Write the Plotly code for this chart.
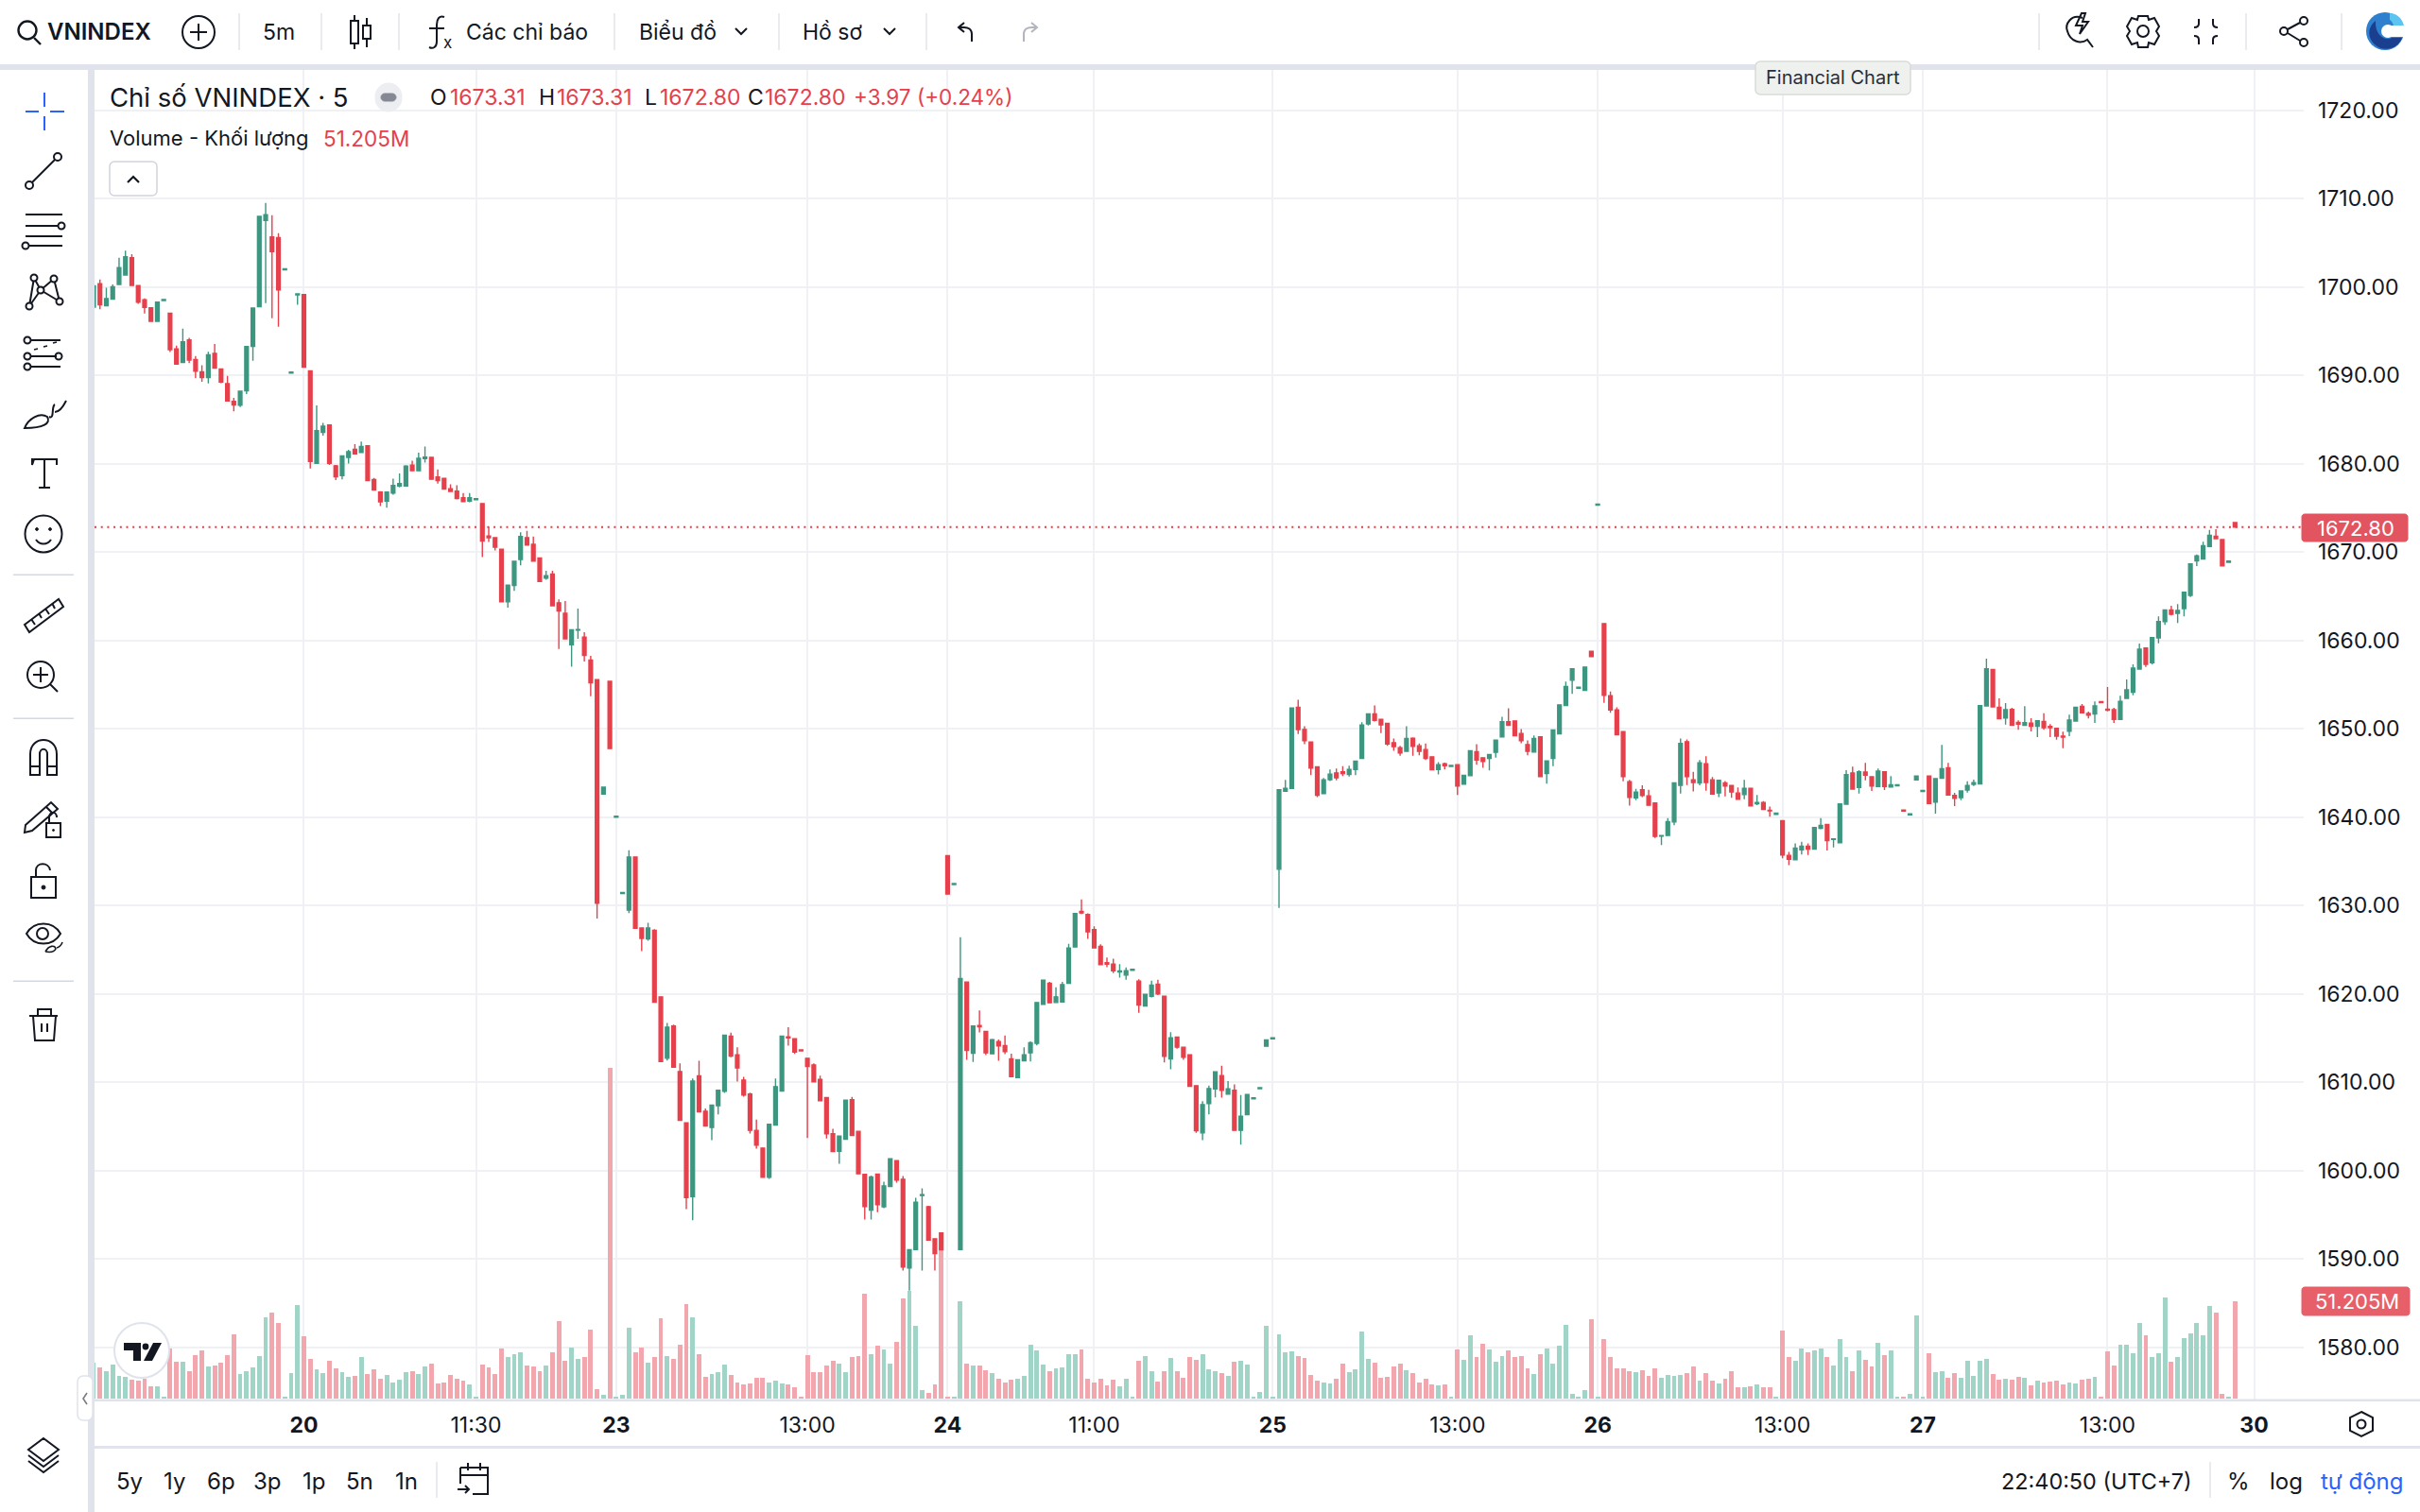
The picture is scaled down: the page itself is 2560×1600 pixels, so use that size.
import re
import plotly.graph_objects as go

opens = [1697.7,1700.34,1697.85,1698.6,1700.26,1701.33,1703.3,1700.15,1698.54,1697.62,1696.1,1698.44,1697.01,1692.96,1691.44,1694,1691.78,1690.37,1689.72,1692.47,1690.7,1689.03,1687.04,1686.59,1688.23,1693.27,1697.74,1707.52,1705.65,1705.57,1701.92,1690.23,1699.09,1699.11,1690.48,1680.02,1683.53,1684.37,1679.75,1678.64,1680.7,1681.62,1681.24,1682,1678.18,1676.77,1675.74,1676.65,1677.46,1677.46,1679.82,1679.18,1680.55,1680.7,1678.49,1678.33,1677.15,1676.88,1676.12,1675.74,1675.91,1675.47,1671.8,1671.61,1670.31,1664.35,1666.19,1669.13,1671.61,1670.85,1669.32,1667.03,1667.49,1664.24,1663.06,1659.5,1661.15,1660.34,1657.75,1655.54,1642.58,1655.35,1639.96,1631.32,1629.46,1635.47,1627.44,1626.2,1627.17,1619.64,1612.69,1616.33,1611.19,1605.38,1597.04,1610.7,1606.7,1604.85,1607.31,1608.95,1615.19,1613.08,1610.23,1608.63,1604.53,1602.53,1599.22,1605.13,1608.98,1615.12,1614.9,1613.64,1612.69,1611.94,1610.3,1608.24,1604.14,1602.17,1603.53,1607.99,1604.42,1599.54,1595.51,1599.57,1595.87,1598.18,1601.11,1599,1588.95,1591.05,1597.15,1595.9,1592.26,1592.91,1635.61,1632.35,1591.05,1621.32,1613.26,1616.4,1615.72,1613.19,1614.58,1614.12,1612.62,1610.51,1612.41,1613.3,1614.37,1618.79,1621.18,1619,1619.07,1621.18,1625.28,1629.3,1628.95,1627.24,1625.35,1623.5,1623.35,1622.46,1622.1,1622.65,1621.43,1618.61,1619.71,1621.07,1619.71,1612.62,1615.08,1613.94,1613.08,1609.59,1604.24,1607.56,1609.23,1610.73,1608.63,1609.06,1604.53,1606.31,1608.1,1609.24,1614.05,1614.88,1634.08,1642.92,1643.24,1652.41,1649.91,1648.48,1645.67,1642.64,1644.21,1644.99,1645.1,1644.81,1645.38,1646.63,1650.52,1651.66,1651.05,1650.59,1648.41,1647.84,1647.42,1648.91,1648.06,1647.63,1646.81,1645.38,1646.03,1645.72,1645.92,1643.71,1644.67,1647.38,1646.7,1646.63,1647.31,1649.06,1650.77,1650.87,1649.45,1648.2,1647.34,1649.06,1644.92,1646.63,1649.41,1652.62,1655.47,1654.56,1654.33,1658.75,1675.29,1661.89,1653.73,1652.12,1649.66,1643.99,1642.17,1643.07,1642.39,1641.57,1637.83,1637.9,1639.43,1643.57,1648.52,1644.21,1643.85,1646.03,1644.21,1642.71,1643.85,1643.57,1642.71,1642.53,1643.24,1641.5,1641.64,1640.75,1640.3,1639.57,1635.65,1635.15,1636.29,1636.68,1636.36,1638.72,1639.14,1637.45,1637.09,1641.44,1644.97,1643.33,1645.08,1644.55,1643.44,1645.12,1643.4,1643.52,1640.79,1640.24,1644.19,1642.88,1644.62,1641.69,1644.37,1645.58,1642.44,1642.19,1643.05,1643.69,1643.73,1652.57,1656.7,1652.42,1651.21,1652.17,1650.71,1650.36,1650.61,1650.25,1650.82,1650.25,1650.04,1649.14,1649.71,1650.86,1652.53,1651.71,1651.64,1653.06,1652.21,1652.14,1651.03,1653.42,1654.1,1656.74,1659.13,1657.45,1660.27,1662.12,1663.44,1663.05,1663.58,1665.08,1668.97,1669.18,1670.61,1671.78,1671.39,1668.83,1673.31]
closes = [1700.1,1697.97,1698.66,1700,1702.17,1703.4,1700.15,1698.27,1697.66,1696.1,1698.27,1698.56,1692.89,1691.24,1693.77,1691.7,1690.44,1689.72,1692.31,1690.8,1689.22,1687.08,1686.62,1688.19,1693.23,1697.59,1707.98,1708.17,1703.97,1699.65,1702.04,1690.35,1699.21,1690.9,1680.24,1683.72,1684.22,1680.02,1678.49,1680.86,1681.35,1681.08,1681.93,1678.07,1677,1675.66,1676.77,1677.53,1677.72,1679.7,1679.18,1680.59,1680.74,1678.22,1678.07,1677.11,1676.85,1676.04,1675.7,1676.12,1676.03,1671.23,1671.61,1670.54,1664.35,1666.23,1668.94,1671.73,1670.77,1668.94,1666.65,1667.3,1663.9,1663.32,1660.15,1661.18,1661.22,1658.28,1655.19,1630.23,1643.38,1647.74,1640.08,1631.44,1635.47,1627.4,1626.25,1627.44,1619.02,1612.33,1616.22,1611.69,1605.67,1596.93,1610.12,1606.63,1605.03,1607.38,1609.06,1615.29,1612.94,1611.59,1608.52,1604.53,1602.85,1599.22,1605.21,1609.48,1615.19,1615,1613.4,1613.52,1611.76,1610.02,1607.88,1604.14,1602.14,1603.89,1607.95,1603.96,1599.61,1595.9,1599.25,1596.11,1598.25,1601.32,1598.89,1589.06,1591.02,1596.4,1597.26,1592.12,1590.59,1591.02,1631.27,1632.47,1621.71,1613.58,1616.33,1616.26,1613.3,1614.8,1614.08,1613.44,1610.62,1612.51,1613.08,1614.44,1619,1621.53,1618.97,1619.64,1621.03,1625.17,1629.06,1629.13,1626.99,1625.17,1623.28,1623.35,1622.6,1622.57,1622.6,1622.77,1618.72,1619.93,1620.96,1619.96,1612.91,1615.01,1613.94,1612.8,1609.52,1604.49,1607.45,1609.27,1611.16,1609.06,1609.23,1604.53,1606.13,1608.59,1608.22,1609.36,1614.76,1615,1643.07,1643.24,1652.34,1649.88,1648.63,1645.53,1642.46,1644.21,1644.85,1644.42,1644.92,1645.38,1646.31,1650.41,1651.66,1650.94,1650.41,1648.27,1647.95,1647.24,1648.88,1647.99,1647.42,1646.63,1645.35,1645.92,1645.81,1645.84,1643.49,1644.71,1647.49,1646.45,1646.27,1647.06,1648.7,1650.77,1650.37,1649.2,1648.63,1647.42,1648.88,1644.56,1646.35,1649.84,1652.69,1654.76,1656.76,1654.68,1656.97,1658.15,1675.41,1653.76,1652.12,1649.3,1644.56,1642.21,1642.82,1642.42,1641.32,1637.79,1637.9,1639.47,1643.85,1648.31,1644.56,1643.89,1646.13,1643.89,1642.6,1644.14,1643.49,1642.82,1642,1643.24,1641.25,1641.64,1640.86,1640.68,1640.42,1635.69,1635.22,1636.47,1636.68,1636.36,1638.79,1639.04,1637.33,1637.52,1641.48,1644.8,1643.16,1645.12,1644.72,1643.51,1645.19,1643.44,1643.65,1643.64,1640.67,1640.36,1644.62,1643,1641.52,1644.33,1645.47,1642.48,1642.12,1642.94,1643.55,1643.87,1652.6,1656.77,1652.46,1651.11,1652.14,1650.36,1650.5,1650.68,1650.25,1650.89,1650.11,1650.11,1649.14,1649.04,1650.96,1652.42,1651.78,1651.53,1652.57,1652.94,1652.07,1651.03,1653.07,1654.39,1656.84,1658.98,1657.27,1660.3,1662.12,1663.44,1662.94,1663.37,1665.44,1668.65,1669.54,1670.71,1671.89,1671.5,1668.43,1668.95,1672.8]
highs = [1700.1,1700.83,1699.88,1700.26,1703.3,1704.08,1703.7,1700.15,1698.7,1697.62,1698.27,1698.56,1697.01,1693.35,1695.26,1694.22,1692.16,1691.13,1692.66,1693.54,1690.7,1689.91,1687.43,1688.19,1693.23,1697.59,1707.98,1709.5,1708.09,1706.07,1702.04,1690.35,1699.21,1699.11,1690.48,1686.59,1684.6,1684.37,1679.83,1680.86,1681.55,1682.2,1682.5,1682,1678.37,1676.88,1676.77,1678.3,1678.87,1679.8,1680.32,1681.24,1681.93,1680.7,1679.33,1678.33,1677.65,1677.53,1676.65,1676.65,1676.03,1675.47,1672.83,1671.61,1670.31,1666.3,1668.94,1672.22,1672.38,1671.73,1669.32,1667.87,1667.87,1664.62,1664.43,1661.18,1663.59,1660.92,1658.24,1655.54,1643.38,1655.35,1640.08,1631.44,1636.23,1635.47,1627.44,1628.01,1627.3,1619.64,1616.68,1616.5,1612.12,1605.38,1610.41,1612.41,1607,1607.38,1609.06,1615.29,1615.58,1613.94,1610.59,1608.8,1605.74,1602.53,1605.21,1610.41,1615.19,1616.19,1614.9,1613.64,1612.69,1612.12,1610.73,1608.24,1604.71,1603.89,1607.95,1608.31,1604.42,1599.54,1599.4,1599.57,1598.72,1601.32,1601.11,1599.36,1591.02,1596.9,1597.97,1596,1592.26,1592.91,1635.61,1632.47,1626.38,1621.32,1616.33,1618.11,1615.72,1614.9,1614.8,1615.26,1613.2,1612.51,1613.94,1614.6,1619,1621.53,1621.35,1620.71,1621.35,1625.63,1629.06,1630.66,1629.1,1627.63,1625.6,1624.1,1623.96,1623.35,1622.96,1622.77,1621.64,1619.93,1621.46,1621.57,1619.71,1615.65,1615.08,1614,1613.08,1609.59,1607.84,1609.59,1611.16,1611.84,1610.12,1609.73,1608.52,1608.59,1608.22,1609.36,1614.76,1615,1643.07,1644.21,1652.34,1653.26,1650.27,1648.48,1645.67,1644.42,1645.38,1645.49,1645.74,1645.81,1646.31,1650.73,1651.66,1652.62,1651.05,1650.59,1648.88,1648.06,1650.27,1649,1648.31,1648.31,1646.81,1646.2,1646.15,1645.84,1645.92,1644.71,1647.49,1648.24,1646.7,1647.06,1648.7,1651.34,1652.3,1650.87,1649.95,1648.66,1649.23,1649.06,1646.35,1649.84,1652.69,1655.33,1656.76,1654.68,1656.97,1658.75,1675.41,1661.89,1654.19,1652.41,1649.66,1644.21,1643.17,1643.57,1643.07,1641.57,1637.9,1639.86,1643.85,1648.88,1648.77,1645.1,1646.45,1646.88,1644.53,1644.14,1644.06,1643.57,1643.35,1644.21,1643.24,1642.5,1641.8,1641.18,1640.42,1639.57,1636.04,1637,1637.18,1637,1638.79,1639.86,1639.14,1637.6,1641.48,1645.29,1645.69,1645.29,1646.11,1644.55,1645.47,1645.12,1644.62,1643.64,1640.79,1640.36,1644.62,1643,1644.62,1644.33,1648.15,1646.11,1642.73,1642.94,1644.05,1644.22,1652.6,1657.91,1656.7,1653.42,1652.89,1652.35,1650.93,1652.53,1651.18,1650.89,1651.75,1650.5,1650.04,1649.64,1651.57,1652.42,1652.78,1651.92,1653.07,1653.06,1654.71,1652.35,1653.71,1655.56,1657.27,1659.63,1659.13,1660.3,1662.69,1663.44,1663.9,1664.08,1665.44,1668.65,1669.71,1671.14,1672.5,1672.57,1671.39,1668.95,1673.31]
lows = [1697.7,1697.47,1697.85,1698.6,1700.26,1701.33,1700.15,1698.08,1696.97,1696.1,1696.1,1698.44,1692.62,1691.24,1691.44,1691.36,1689.64,1689.26,1689.07,1690.8,1689.1,1687.08,1685.9,1686.4,1687.85,1691.63,1697.74,1698.16,1696.44,1695.49,1701.92,1690.23,1697.97,1690.9,1679.44,1680.02,1683.15,1679.83,1678.14,1678.22,1680,1681.08,1681.24,1678.07,1677,1675.2,1675.01,1676.46,1677.3,1677.46,1679.18,1679.18,1680.1,1678.22,1677.72,1677.11,1676.78,1675.93,1675.7,1675.62,1675.91,1669.4,1671.12,1670.16,1664.35,1663.7,1665.58,1668.48,1670.77,1668.94,1666.65,1666.84,1663.9,1659,1660.15,1657,1660.15,1657.6,1653.66,1628.51,1642.58,1647.74,1639.96,1631.32,1629.12,1627.4,1624.8,1626,1619.02,1612.33,1612.44,1611.69,1605.67,1595.61,1594.37,1606.63,1605.03,1603.42,1606.35,1608.77,1612.8,1610.05,1608.34,1604.17,1602.46,1599.22,1599.04,1605.13,1608.98,1614.12,1613.19,1613.52,1603.67,1610.02,1607.88,1603.6,1602.14,1600.75,1603.53,1603.96,1599.61,1594.44,1594.44,1595.26,1595.72,1598.18,1598.6,1588.66,1586.4,1591.05,1588.66,1592.12,1588.66,1591.02,1631.27,1632.35,1591.05,1612.51,1612.26,1615.61,1613.05,1613.19,1612.41,1613.15,1610.62,1610.51,1612.41,1612.33,1614.15,1618.79,1618.97,1619,1619.07,1621.18,1625.28,1629,1626.2,1625.17,1623.28,1623,1622.32,1621.82,1621.57,1622.65,1617.83,1618.61,1619.57,1619.85,1612.23,1611.44,1613.76,1612.51,1609.52,1604.24,1603.42,1606.35,1608.27,1608.24,1608.63,1604.53,1602.92,1606.31,1608.1,1609.24,1614.05,1614.88,1629.7,1642.92,1643.24,1649.38,1648.24,1644.74,1642.25,1642.64,1644.06,1644.14,1644.63,1644.56,1644.74,1646.63,1650.34,1650.8,1649.48,1648.06,1647.49,1646.92,1647.42,1646.92,1646.99,1646.45,1645.28,1644.81,1645.38,1645.72,1642.5,1643.71,1644.67,1645.92,1645.56,1645.28,1646.7,1649.06,1650.37,1649.2,1648.34,1646.99,1647.34,1644.56,1643.78,1645.74,1649.41,1652.62,1653.94,1654.56,1654.33,1658.15,1675.29,1652.91,1651.8,1649.3,1644.03,1641.28,1641.89,1642.25,1641.32,1637.61,1636.83,1637.9,1639.07,1642.64,1643.6,1642.89,1643.57,1642.96,1642.6,1642.25,1642.32,1642.17,1642,1642,1641.25,1641.35,1640.86,1640.04,1640.3,1635.33,1634.55,1635.15,1635.76,1635.69,1636.3,1638.6,1636.19,1636.56,1637.09,1641.44,1643.16,1642.66,1644.15,1642.94,1643.44,1643.05,1643.4,1643.52,1640.67,1640.24,1644.19,1642.88,1641.52,1640.37,1644.37,1642.48,1641.23,1641.91,1642.76,1643.5,1643.73,1652.57,1652.46,1651.11,1650.46,1650.36,1649.86,1650.36,1649.68,1649.04,1649.86,1649.04,1648.75,1647.79,1649.14,1650.86,1651.78,1651.14,1650.64,1652.94,1651.95,1650.64,1651.03,1653.42,1653.78,1656.74,1656.99,1657.27,1659.66,1661.73,1662.8,1661.94,1662.69,1664.9,1668.4,1669.18,1670.61,1671.5,1668.43,1668.83,1672.8]
volumes = [18.9,16.4,14.6,18.1,11.8,11.4,9.9,9.3,10.3,6.6,6.3,1.0,26.5,19.6,19.4,14.6,22.9,25.2,16.9,17.2,18.9,22.9,33.6,12.8,14.6,16.4,22.5,42.8,45.1,39.8,1.0,13.3,49.0,32.8,20.7,15.4,13.3,19.9,15.9,13.8,11.4,11.9,22.0,12.9,15.4,10.6,12.4,8.5,9.8,13.8,14.6,12.9,16.9,18.6,8.0,8.5,12.4,10.3,9.3,7.5,1.0,18.1,16.4,12.9,26.2,22.0,23.4,24.4,17.2,16.9,14.3,17.2,24.4,40.6,19.9,26.8,20.9,21.7,36.3,4.8,1.8,174,1.0,2.2,37.1,24.4,26.8,19.1,21.7,42.4,22.5,20.7,28.3,49.5,42.8,23.4,11.4,12.8,13.8,17.7,12.4,8.5,7.5,8.0,11.1,11.1,8.5,9.3,8.0,7.5,5.8,1.0,23.0,13.8,13.8,17.2,19.9,18.6,13.8,21.7,22.5,55.2,23.4,27.8,25.7,18.6,29.7,52.7,56.8,38.1,4.5,3.1,7.5,80,1.0,1.0,51.2,18.6,17.2,17.2,15.1,13.3,10.6,8.5,9.8,10.3,11.9,28.3,25.2,18.1,14.6,15.9,16.4,23.4,23.4,25.7,10.3,8.5,10.6,7.1,9.8,6.6,10.3,1.0,19.9,22.5,14.3,8.9,14.6,21.2,14.3,11.1,21.7,20.4,23.4,15.4,14.6,13.3,11.9,19.4,19.9,17.7,1.0,3.5,38.1,1.0,33.6,24.4,24.9,22.5,21.2,12.4,9.3,8.5,8.0,10.3,18.6,13.8,15.4,35.3,20.7,19.1,11.1,11.4,16.7,18.6,15.1,13.3,8.5,10.6,7.5,7.1,7.5,1.0,25.7,20.4,33.1,22.0,28.7,25.7,19.4,22.5,25.2,22.0,22.5,15.9,12.8,23.4,26.5,18.6,27.8,38.9,2.7,1.0,4.5,41.6,1.0,31.3,21.7,15.9,15.9,14.6,14.1,15.1,11.9,15.9,11.1,12.4,11.9,12.4,13.3,16.9,9.3,13.3,9.3,8.0,10.3,14.6,6.1,6.1,6.6,7.5,5.8,5.8,1.0,35.8,22.0,19.9,26.5,24.4,25.2,26.5,21.7,17.2,31.3,22.0,14.6,25.2,20.4,16.9,29.2,23.0,25.2,1.0,1.0,2.7,43.7,1.0,23.9,14.1,14.6,11.1,13.3,11.1,19.9,11.9,19.9,20.9,12.8,9.8,10.3,9.8,11.4,11.1,7.1,9.3,8.5,8.9,9.3,7.5,8.5,8.0,9.8,10.6,11.4,1.0,24.9,17.2,28.3,28.3,23.9,39.8,33.1,21.7,23.9,53.0,19.4,21.7,31.8,34.5,39.8,33.1,48.7,45.1,2.7,1.0,51.205]
tick_positions = [33,60,82,112,134,157,185,214,236,265,287,316,339]
tick_labels = ["<b>20</b>","11:30","<b>23</b>","13:00","<b>24</b>","11:00","<b>25</b>","13:00","<b>26</b>","13:00","<b>27</b>","13:00","<b>30</b>"]
price_ticks = [1720,1710,1700,1690,1680,1670,1660,1650,1640,1630,1620,1610,1600,1590,1580]
last_price = 1672.80
range_labels = ["5y","1y","6p","3p","1p","5n","1n"]

W, H = 2560, 1600
INK = "#131722"
RED = "#e5404b"
GREEN = "#3c9680"
RED_V = "#f2a6ad"
GREEN_V = "#9fd4c7"
GRID = "#f0f1f4"
BAND = "#e0e3eb"
FONT = "Inter"

idx = list(range(len(opens)))
fig = go.Figure()
fig.add_trace(go.Bar(x=idx, y=volumes, width=0.72, yaxis="y",
                     marker=dict(color=[GREEN_V if c >= o else RED_V for o, c in zip(opens, closes)], line_width=0),
                     hoverinfo="skip", showlegend=False))
fig.add_trace(go.Candlestick(x=idx, open=opens, high=highs, low=lows, close=closes, yaxis="y2",
                             increasing=dict(line=dict(color=GREEN, width=1.4), fillcolor=GREEN),
                             decreasing=dict(line=dict(color=RED, width=1.4), fillcolor=RED),
                             whiskerwidth=0, showlegend=False, hoverinfo="skip"))

shapes, notes = [], []

def xp(px): return px / W
def yp(py): return 1 - py / H

def text(x, y, s, size=24, color=INK, anchor="left", weight=None):
    if anchor == "left":
        x -= 2
    notes.append(dict(xref="paper", yref="paper", x=xp(x), y=yp(y), text=s, showarrow=False,
                      xanchor=anchor, yanchor="middle", xshift=0,
                      font=dict(family=FONT, size=size, color=color, weight=weight) if weight else dict(family=FONT, size=size, color=color)))

def path(d, cx=0, cy=0, color=INK, w=2, fill=None, layer="above"):
    out, k = [], 0
    for tok in re.findall(r"[MLCQZ]|-?\d+\.?\d*", d):
        if tok.isalpha():
            out.append(tok); k = 0
        else:
            v = float(tok)
            out.append(f"{xp(v + cx):.6f}" if k % 2 == 0 else f"{yp(v + cy):.6f}")
            k += 1
    s, i = "", 0
    while i < len(out):
        if out[i].isalpha():
            s += out[i]; i += 1
        else:
            s += out[i] + "," + out[i + 1] + " "; i += 2
    shapes.append(dict(type="path", xref="paper", yref="paper", path=s.strip(), layer=layer,
                       line=dict(color=color, width=w), fillcolor=fill or "rgba(0,0,0,0)"))

def rect(x0, y0, x1, y1, fill, line=None, w=0, layer="above"):
    shapes.append(dict(type="rect", xref="paper", yref="paper", x0=xp(x0), x1=xp(x1), y0=yp(y0), y1=yp(y1),
                       fillcolor=fill, layer=layer, line=dict(color=line or fill, width=w)))

def circ(cx, cy, r, color=INK, w=2, fill=None, ry=None):
    ry = ry or r
    shapes.append(dict(type="circle", xref="paper", yref="paper", x0=xp(cx - r), x1=xp(cx + r), y0=yp(cy - ry), y1=yp(cy + ry),
                       layer="above", line=dict(color=color, width=w), fillcolor=fill or "rgba(0,0,0,0)"))

def rrect(x0, y0, x1, y1, r, color, w=1.5, fill=None):
    c = r * 0.45
    d = (f"M{x0+r} {y0} L{x1-r} {y0} C{x1-c} {y0} {x1} {y0+c} {x1} {y0+r} L{x1} {y1-r} C{x1} {y1-c} {x1-c} {y1} {x1-r} {y1} "
         f"L{x0+r} {y1} C{x0+c} {y1} {x0} {y1-c} {x0} {y1-r} L{x0} {y0+r} C{x0} {y0+c} {x0+c} {y0} {x0+r} {y0} Z")
    path(d, color=color, w=w, fill=fill)

# frame bands
rect(0, 68, W, 74, BAND)
rect(93, 74, 100, H, BAND)
rect(100, 1530, W, 1533, BAND)
rect(100, 1480.5, W, 1483, BAND)

# top bar
circ(29, 32, 9.5, w=2.4)
path("M36 40 L43 47", w=2.4)
text(50, 34, "VNINDEX", 24, weight=600)
circ(210, 34, 17)
path("M210 25 L210 43 M201 34 L219 34")
text(278, 34, "5m", 23)
for sx in (253, 340, 422, 650, 824, 980, 2157, 2376, 2477):
    rect(sx - 0.5, 14, sx + 0.5, 53, "#d5d8e0")
rect(371, 22, 379, 46, "#ffffff", INK, 2)
path("M375 16 L375 22 M375 46 L375 52")
rect(384, 27, 392, 41, "#ffffff", INK, 2)
path("M388 19 L388 27 M388 41 L388 50")
path("M470 18 C465 16 462 20 462 26 L462 44 C462 50 458 52 454 50 M454 30 L470 30")
text(469, 45, "x", 17)
text(493, 34, "Các chỉ báo", 23)
text(676, 34, "Biểu đồ", 23)
path("M778 30 L784 36 L790 30")
text(849, 34, "Hồ sơ", 23)
path("M935 30 L941 36 L947 30")
path("M1028 44 L1028 36 C1028 31 1024 29 1020 29 L1014 29 M1020 24 L1014 29 L1020 34")
path("M1083 44 L1083 36 C1083 31 1087 29 1091 29 L1097 29 M1091 24 L1097 29 L1091 34", color="#b2b5be")

path("M2203 19 C2191 14 2184 26 2187 33 C2190 44 2201 47 2208 42 L2214 50")
path("M2202 14 L2196 27 L2203 27 L2200 36 L2209 23 L2203 23 L2206 14 Z")
circ(2267, 33, 6)
path("M2262 17 L2272 17 L2273 21 L2279 19 L2284 28 L2281 33 L2284 38 L2279 47 L2273 45 L2272 50 L2262 50 L2261 45 L2255 47 L2250 38 L2253 33 L2250 28 L2255 19 L2261 21 Z")
path("M2326 20 L2326 25 C2326 28 2324 29 2321 29 M2341 20 L2341 25 C2341 28 2343 29 2346 29 M2326 47 L2326 42 C2326 39 2324 38 2321 38 M2341 47 L2341 42 C2341 39 2343 38 2346 38")
circ(2437, 22, 4); circ(2437, 45, 4); circ(2416, 33, 4)
path("M2420 31 L2433 24 M2420 35 L2433 43")
circ(2523, 33, 20, color="#2a6fc0", w=0, fill="#2f7fcf")
path("M2513 22 C2503 30 2504 44 2518 51 C2530 54 2538 48 2541 40 L2530 40 C2524 44 2512 38 2513 22 Z", color="#1b3f8f", w=0, fill="#1b3f8f")
circ(2526, 33, 7, color="#ffffff", w=0, fill="#ffffff")
rect(2529, 27, 2545, 39, "#ffffff")
path("M2528 14 C2535 14 2541 19 2543 27 L2532 27 C2531 24 2530 22 2528 21 Z", color="#5cc4f0", w=0, fill="#5cc4f0")

# legend
text(116, 103, "Chỉ số VNINDEX · 5", 27.5)
rrect(397, 88, 425, 118, 14, "#eceef2", 1, "#eceef2")
rrect(403, 99, 419, 107, 4, "#868993", 1, "#868993")
for label, value, lx, vx in (("O", "1673.31", 455, 476), ("H", "1673.31", 570, 589), ("L", "1672.80", 682, 698), ("C", "1672.80", 791, 809)):
    text(lx, 103, label, 23)
    text(vx, 103, value, 23, RED)
text(903, 103, "+3.97 (+0.24%)", 22.5, RED)
text(116, 146, "Volume - Khối lượng", 22)
text(342, 146, "51.205M", 22.5, RED)
rrect(116, 171, 166, 207, 5, "#d1d4dc", 1.5, "#ffffff")
path("M135 193 L141 187 L147 193", w=2.2)

# tooltip
rrect(1857, 65, 2021, 100, 5, "#d9dbd9", 1.5, "#eff1ee")
text(1939, 82, "Financial Chart", 20, "#2a2e39", anchor="center")

# price tags
rrect(2435, 544, 2547, 573, 3, "#e25560", 1, "#e25560")
text(2492, 559, "1672.80", 22, "#ffffff", anchor="center")
rrect(2435, 1362, 2549, 1392, 3, "#e65f69", 1, "#e65f69")
text(2493, 1377, "51.205M", 22, "#ffffff", anchor="center")

# last price line
shapes.append(dict(type="line", xref="paper", yref="y2", x0=xp(100), x1=xp(2437), y0=last_price, y1=last_price,
                   line=dict(color="#f23645", width=2, dash="2px,4.7px"), layer="above"))

# tv logo, collapse tab, axis settings
circ(150, 1429, 29, color="#e0e3eb", w=2, fill="#ffffff")
path("M131 1421 L149 1421 L149 1440 L141 1440 L141 1429 L131 1429 Z", w=0, fill=INK)
circ(154, 1425, 3.4, w=0, fill=INK)
path("M162 1421 L171 1421 L161 1440 L152 1440 Z", w=0, fill=INK)
rrect(82, 1456, 98, 1503, 6, "#e0e3eb", 1.5, "#ffffff")
path("M92 1474 L88 1480 L92 1486", color="#787b86", w=1.6)
path("M2498 1494 L2510 1500 L2510 1514 L2498 1520 L2486 1514 L2486 1500 Z")
circ(2498, 1507, 4.5)

# left toolbar
BLUE = "#2962ff"
path("M27 118 L41 118 M53 118 L68 118 M47 98 L47 113 M47 123 L47 138", color=BLUE)
circ(31, 196, 4); circ(61, 166, 4)
path("M34 193 L58 169")
path("M27 227 L66 227 M27 239 L61 239 M27 250 L66 250 M31 260 L66 260")
circ(65, 239, 3.5); circ(27, 260, 3.5)
path("M31 324 L36 294 L43 307 L57 295 L63 319 L43 307 L31 324")
for cx, cy in ((31, 324), (36, 294), (43, 307), (57, 295), (63, 319)):
    circ(cx, cy, 3.5, fill="#ffffff")
path("M32 360 L64 360 M32 377 L60 377 M32 388 L64 388")
path("M36 370 L40 369 M46 367 L50 366 M56 363 L60 362", w=1.6)
circ(29, 360, 3.5); circ(29, 377, 3.5); circ(29, 388, 3.5); circ(62, 377, 3.5)
path("M26 453 C30 443 42 436 50 441 C54 448 46 453 26 453 Z")
path("M52 441 C58 444 54 430 58 428 M58 436 C62 436 66 432 70 424")
path("M34 485 L34 492 L36 486 L60 486 L60 492 M47 486 L47 516 M41 516 L53 516")
circ(46, 565, 19.5)
circ(39, 560, 1.4, w=1, fill=INK); circ(53, 560, 1.4, w=1, fill=INK)
path("M38 571 C42 577 50 577 54 571")
rect(14, 607.5, 78, 609, "#d5d8e0")
path("M26 661 L62 634 L67 642 L31 669 Z M33 655 L37 661 M41 649 L44 654 M48 644 L52 650 M55 638 L58 644")
circ(43, 714, 14)
path("M43 706 L43 722 M35 714 L51 714 M53 724 L61 732")
rect(14, 759.5, 78, 761, "#d5d8e0")
path("M32 820 L32 798 C32 778 60 778 60 798 L60 820 L50 820 L50 798 C50 791 42 791 42 798 L42 820 Z M32 811 L42 811 M50 811 L60 811")
path("M27 873 L54 849 L61 856 L34 879 L26 881 Z M49 854 L56 861")
path("M49 871 L64 871 L64 886 L49 886 Z M52 871 L52 865 C52 858 60 858 60 865")
circ(56.5, 878.5, 1, w=1, fill=INK)
path("M33 928 L59 928 L59 950 L33 950 Z M38 928 L38 921 C38 912 52 912 53 921")
circ(46, 939, 2, w=1, fill=INK)
path("M28 988 C36 974 56 974 64 988 C56 1002 36 1002 28 988 Z")
circ(45, 988, 6)
path("M48 1007 C52 1000 58 1000 59 1004 C57 1008 53 1008 48 1007 M60 1003 C63 1002 65 1000 66 997", w=1.6)
rect(14, 1037.5, 78, 1039, "#d5d8e0")
path("M31 1075 L61 1075 M35 1075 L37 1101 L57 1101 L59 1075 M40 1075 L40 1068 L54 1068 L54 1075 M44 1083 L44 1092 M50 1083 L50 1092")
path("M46 1522 L62 1534 L46 1546 L30 1534 Z")
path("M30 1540 L46 1552 L62 1540 M30 1546 L46 1558 L62 1546")

# bottom bar
for label, cx in zip(range_labels, (137, 184.5, 233.5, 282.5, 331.5, 380.5, 429.5)):
    text(cx, 1567, label, 24, anchor="center")
rect(461.5, 1547, 462.5, 1585, "#d5d8e0")
rect(2337.5, 1547, 2338.5, 1585, "#d5d8e0")
path("M487 1553 L516 1553 L516 1581 L500 1581 M487 1553 L487 1570 M487 1561 L516 1561 M495 1548 L495 1556 M508 1548 L508 1556 M484 1576 L496 1576 M492 1572 L496 1576 L492 1580")
text(2321, 1567, "22:40:50 (UTC+7)", 23.4, anchor="right")
text(2368, 1567, "%", 24, anchor="center")
text(2418, 1567, "log", 24, anchor="center")
text(2498, 1567, "tự động", 24, BLUE, anchor="center")

top, bottom, left, right = 74, 1482, 100, 2437
price_at = lambda py: 1720 - (py - 116.5) / 9.35
vol_at = lambda py: (1480 - py) / 2.0115
spacing, x0 = 6.742, 99

fig.update_layout(
    width=W, height=H, autosize=False, margin=dict(l=0, r=0, t=0, b=0, pad=0),
    paper_bgcolor="#ffffff", plot_bgcolor="#ffffff", font=dict(family=FONT, color=INK),
    showlegend=False, bargap=0, boxgap=0.44, boxgroupgap=0, dragmode=False,
    xaxis=dict(domain=[left / W, right / W], range=[(left - x0) / spacing, (right - x0) / spacing],
               tickmode="array", tickvals=tick_positions, ticktext=tick_labels, showgrid=True, gridcolor=GRID, gridwidth=2,
               zeroline=False, showline=False, ticks="", ticklabelstandoff=10, tickfont=dict(size=23, family=FONT, color=INK),
               rangeslider=dict(visible=False), tickangle=0),
    yaxis=dict(domain=[1 - bottom / H, 1 - top / H], range=[vol_at(bottom), vol_at(top)], visible=False, fixedrange=True),
    yaxis2=dict(domain=[1 - bottom / H, 1 - top / H], overlaying="y", side="right", anchor="x",
                range=[price_at(bottom), price_at(top)], tickmode="array", tickvals=price_ticks,
                ticktext=[f"{v:.2f}" for v in price_ticks], showgrid=True, gridcolor=GRID, gridwidth=2,
                zeroline=False, showline=False, ticks="", ticklabelstandoff=14, tickfont=dict(size=23, family=FONT, color=INK)),
    shapes=shapes, annotations=notes,
)
fig.write_html("out.html", config={"displayModeBar": False},
               post_script="document.body.style.margin='0';document.body.style.overflow='hidden';")
